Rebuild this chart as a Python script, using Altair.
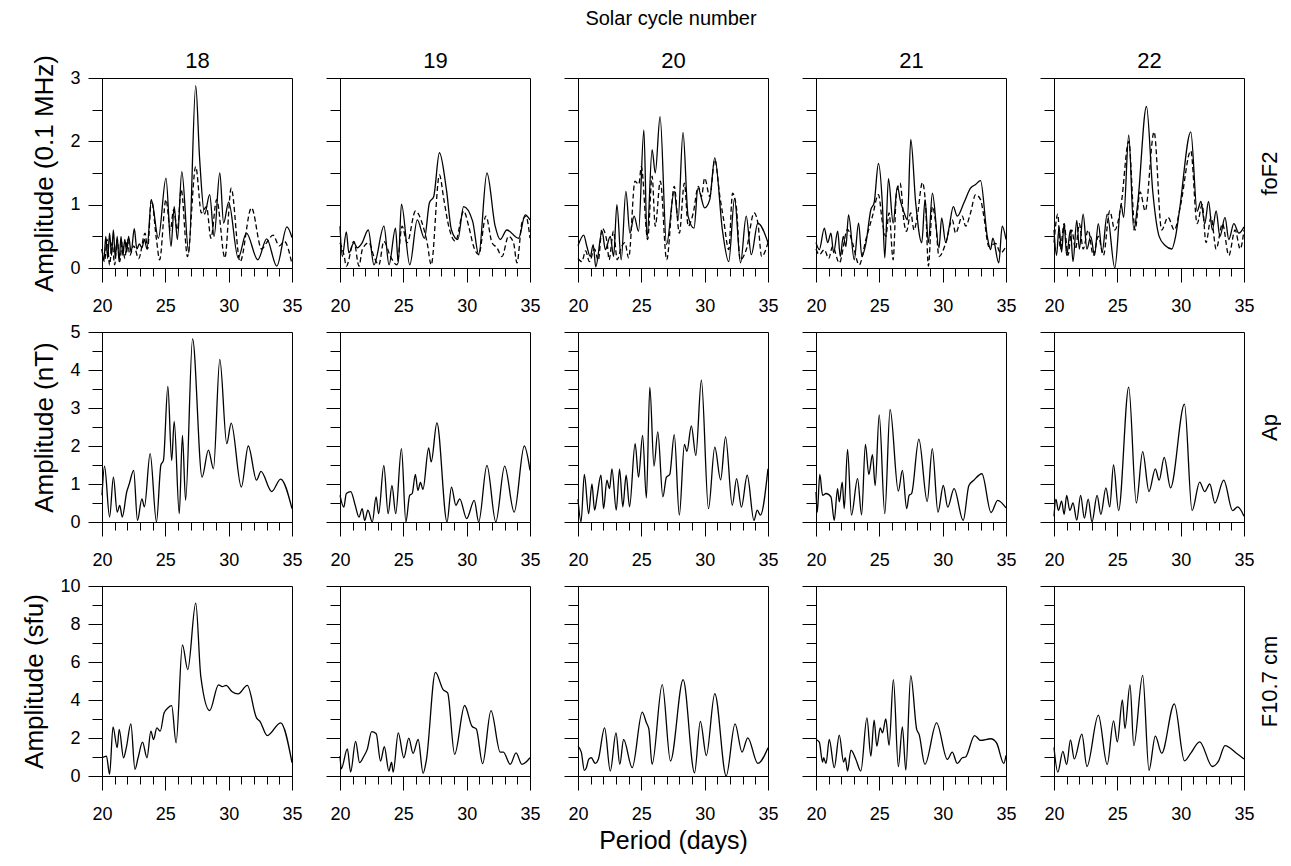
import altair as alt
import pandas as pd

CYCLES = ["18", "19", "20", "21", "22"]
ROW_NAMES = ["foF2", "Ap", "F10.7 cm"]
Y_TITLES = ["Amplitude (0.1 MHz)", "Amplitude (nT)", "Amplitude (sfu)"]
Y_MAX = [3, 5, 10]
Y_MAJOR = [[0, 1, 2, 3], [0, 1, 2, 3, 4, 5], [0, 2, 4, 6, 8, 10]]
Y_MINOR = [[0.5, 1.5, 2.5], [0.5, 1.5, 2.5, 3.5, 4.5], [1, 3, 5, 7, 9]]
X_MAJOR = [20, 25, 30, 35]
X_MINOR = [21, 22, 23, 24, 26, 27, 28, 29, 31, 32, 33, 34]

# ---- foF2 (solid and dashed), period (days), amplitude (0.1 MHz) ----
fof2_18_solid = [(20.0,0.30),(20.15,0.12),(20.3,0.5),(20.45,0.15),(20.6,0.55),(20.75,0.2),(20.9,0.6),(21.05,0.15),(21.2,0.5),(21.35,0.1),(21.5,0.5),(21.65,0.2),(21.8,0.45),(21.95,0.25),(22.1,0.5),(22.3,0.25),(22.55,0.62),(22.75,0.3),(22.95,0.38),(23.15,0.32),(23.35,0.45),(23.55,0.3),(23.9,1.07),(24.45,0.47),(25.05,1.42),(25.45,0.34),(25.7,0.97),(25.95,0.45),(26.3,1.52),(26.85,0.24),(27.4,2.88),(27.7,1.75),(28.1,0.85),(28.5,1.16),(28.85,0.5),(29.3,1.5),(29.6,0.71),(30.0,1.04),(30.75,0.16),(31.4,0.55),(32.3,0.13),(33.0,0.46),(33.8,0.03),(34.6,0.65),(35.0,0.48)]
fof2_18_dashed = [(20.0,0.3),(20.2,0.1),(20.4,0.45),(20.6,0.05),(20.8,0.4),(21.0,0.05),(21.2,0.45),(21.4,0.1),(21.6,0.4),(21.8,0.15),(22.0,0.45),(22.2,0.2),(22.5,0.35),(22.9,0.15),(23.4,0.55),(23.6,0.3),(23.9,1.08),(24.3,0.45),(24.55,0.13),(25.05,1.08),(25.4,0.6),(25.65,0.92),(25.95,0.6),(26.25,1.24),(26.75,0.18),(27.4,1.6),(27.85,0.87),(28.25,0.97),(28.6,0.47),(29.05,1.08),(29.7,0.16),(30.2,1.26),(30.9,0.1),(31.8,0.95),(32.6,0.3),(33.0,0.4),(33.5,0.52),(34.0,0.35),(34.4,0.42),(35.0,0.06)]
fof2_19_solid = [(20.0,0.66),(20.18,0.18),(20.5,0.57),(20.7,0.24),(21.1,0.4),(21.36,0.32),(21.75,0.4),(22.23,0.6),(22.68,0.05),(23.47,0.66),(23.87,0.05),(24.38,0.63),(24.6,0.08),(24.85,1.01),(25.51,0.05),(26.1,0.76),(26.67,0.47),(27.06,1.03),(27.4,1.13),(27.85,1.82),(28.4,1.24),(28.8,0.6),(29.3,0.45),(29.76,0.97),(30.47,0.74),(30.95,0.21),(31.6,1.5),(32.25,0.66),(32.65,0.45),(33.17,0.6),(34.1,0.47),(34.62,0.84),(35.0,0.76)]
fof2_19_dashed = [(20.0,0.4),(20.31,0.21),(20.5,0.03),(21.1,0.42),(21.5,0.03),(21.76,0.29),(22.28,0.4),(22.68,0.18),(23.07,0.05),(23.46,0.42),(23.99,0.18),(24.5,0.05),(24.9,0.66),(25.3,0.4),(25.96,0.9),(26.48,0.71),(26.88,0.4),(27.2,0.05),(27.85,1.47),(28.2,1.08),(28.58,0.66),(29.11,0.42),(29.76,0.9),(30.16,0.66),(30.55,0.34),(30.95,0.21),(31.52,0.82),(32.0,0.4),(32.39,0.32),(32.79,0.18),(33.3,0.5),(33.7,0.4),(33.97,0.08),(34.36,0.71),(34.67,0.82),(35.0,0.47)]
fof2_20_solid = [(20.0,0.35),(20.45,0.52),(20.7,0.34),(20.97,0.18),(21.2,0.37),(21.4,0.02),(21.9,0.58),(22.16,0.29),(22.55,0.5),(22.81,0.18),(23.07,1.0),(23.41,0.13),(23.78,1.21),(24.1,0.55),(24.43,0.82),(24.78,0.58),(25.2,2.18),(25.45,0.47),(25.85,1.87),(26.1,1.5),(26.48,2.39),(26.99,0.37),(27.6,1.21),(27.9,0.76),(28.29,2.14),(28.69,0.82),(29.16,0.63),(29.47,1.26),(30.0,0.95),(30.4,1.08),(30.8,1.74),(31.4,0.6),(31.9,0.1),(32.36,1.1),(32.83,0.08),(33.28,0.82),(33.68,0.21),(34.2,0.71),(35.0,0.4)]
fof2_20_dashed = [(20.0,0.15),(20.3,0.1),(20.6,0.27),(20.9,0.1),(21.3,0.3),(21.6,0.12),(21.9,0.63),(22.3,0.4),(22.45,0.13),(22.8,0.58),(23.1,0.13),(23.4,0.32),(23.7,0.4),(24.0,0.16),(24.5,1.37),(24.8,1.32),(25.0,1.6),(25.5,0.45),(25.85,1.45),(26.1,0.66),(26.5,1.37),(27.0,0.13),(27.6,1.29),(28.0,0.55),(28.4,1.34),(28.7,0.66),(29.1,0.87),(29.5,1.29),(29.75,1.13),(30.0,1.42),(30.4,1.13),(30.8,1.71),(31.2,1.13),(31.5,0.76),(31.9,0.29),(32.2,1.18),(32.5,0.97),(32.8,0.13),(33.3,0.3),(33.9,0.87),(34.2,0.71),(34.5,0.18),(35.0,0.4)]
fof2_21_solid = [(20.0,0.4),(20.26,0.29),(20.66,0.63),(20.92,0.4),(21.18,0.55),(21.39,0.24),(21.71,0.58),(21.92,0.18),(22.15,0.5),(22.36,0.34),(22.57,0.84),(23.02,0.13),(23.36,0.71),(23.62,0.18),(23.94,0.39),(24.33,0.92),(24.59,1.03),(24.93,1.65),(25.25,0.97),(25.43,0.16),(25.72,1.41),(26.09,0.71),(26.43,1.29),(26.64,1.08),(26.96,0.87),(27.22,0.76),(27.48,2.03),(27.87,1.03),(28.35,0.4),(28.61,1.08),(28.87,0.4),(29.19,1.18),(29.71,0.32),(29.92,0.79),(30.24,0.4),(30.5,0.63),(30.84,0.97),(31.15,0.82),(31.68,1.03),(32.2,1.26),(32.6,1.32),(32.99,1.38),(33.52,0.5),(33.78,0.29),(33.96,0.47),(34.43,0.08),(34.7,0.66),(35.0,0.45)]
fof2_21_dashed = [(20.0,0.3),(20.26,0.21),(20.66,0.29),(21.0,0.15),(21.31,0.34),(21.84,0.08),(22.49,0.61),(22.89,0.39),(23.41,0.05),(23.94,0.45),(24.46,0.82),(24.93,1.16),(25.25,0.71),(25.51,0.5),(25.77,0.87),(26.09,0.13),(26.35,1.18),(26.64,1.34),(26.96,0.71),(27.14,0.58),(27.48,0.87),(27.74,0.6),(28.0,0.82),(28.4,1.35),(28.66,0.97),(28.87,0.03),(29.19,0.97),(29.45,0.71),(29.71,0.18),(30.24,0.39),(30.76,0.76),(31.02,0.55),(31.55,0.82),(31.81,0.66),(32.2,0.87),(32.6,1.16),(32.99,1.08),(33.25,0.82),(33.65,0.34),(34.17,0.39),(34.57,0.24),(35.0,0.34)]
fof2_22_solid = [(20.0,0.6),(20.2,0.2),(20.4,0.65),(20.6,0.25),(20.8,0.7),(21.0,0.2),(21.3,0.6),(21.5,0.1),(21.8,0.75),(22.0,0.3),(22.3,0.85),(22.6,0.3),(22.9,0.5),(23.2,0.2),(23.5,0.7),(23.8,0.25),(24.2,0.85),(24.8,0.0),(25.3,1.0),(25.5,0.8),(25.9,2.1),(26.3,0.6),(26.6,1.0),(27.3,2.55),(27.8,1.2),(28.3,0.5),(28.8,0.35),(29.3,0.3),(29.6,0.5),(29.9,0.9),(30.8,2.15),(31.3,0.9),(31.6,1.05),(31.9,0.7),(32.2,1.05),(32.5,0.6),(32.8,0.9),(33.1,0.5),(33.5,0.8),(33.8,0.45),(34.2,0.7),(34.6,0.55),(35.0,0.65)]
fof2_22_dashed = [(20.0,0.4),(20.3,0.85),(20.5,0.3),(20.8,0.7),(21.1,0.2),(21.4,0.6),(21.7,0.3),(22.0,0.7),(22.3,0.3),(22.7,0.6),(23.1,0.2),(23.5,0.5),(23.9,0.2),(24.4,0.9),(24.8,0.6),(25.3,1.0),(25.9,2.0),(26.4,0.6),(26.8,1.2),(27.2,0.9),(27.9,2.15),(28.5,0.6),(29.0,0.8),(29.5,0.6),(30.0,1.0),(30.8,1.85),(31.3,0.7),(31.7,1.0),(32.0,0.4),(32.4,0.8),(32.8,0.3),(33.3,0.7),(33.8,0.2),(34.3,0.6),(34.7,0.3),(35.0,0.6)]

# ---- Ap, amplitude (nT) ----
ap_18 = [(20.0,0.7),(20.2,1.47),(20.6,0.13),(20.9,1.18),(21.2,0.26),(21.4,0.44),(21.6,0.13),(21.95,0.79),(22.15,1.0),(22.5,1.36),(22.8,0.04),(23.15,0.61),(23.35,0.4),(23.8,1.8),(24.3,0.0),(24.65,1.5),(24.85,1.62),(25.2,3.57),(25.5,1.62),(25.7,2.65),(26.1,0.22),(26.35,2.28),(26.6,0.57),(27.15,4.82),(27.9,1.18),(28.4,1.89),(28.8,1.4),(29.3,4.28),(29.85,2.06),(30.2,2.6),(31.0,0.92),(31.55,2.0),(32.2,1.1),(32.55,1.33),(33.4,0.8),(34.1,1.13),(35.0,0.35)]
ap_19 = [(20.0,0.7),(20.3,0.39),(20.5,0.75),(20.85,0.8),(21.2,0.44),(21.5,0.13),(21.75,0.35),(21.95,0.04),(22.2,0.31),(22.55,0.0),(22.85,0.66),(23.05,0.22),(23.46,1.49),(23.8,0.22),(24.1,0.96),(24.4,0.22),(24.85,1.93),(25.2,0.0),(25.5,0.7),(25.7,0.75),(25.95,1.25),(26.15,0.83),(26.35,1.04),(26.55,0.86),(27.0,1.95),(27.2,1.58),(27.65,2.61),(28.45,0.0),(28.8,0.92),(29.15,0.44),(29.45,0.61),(30.0,0.09),(30.6,0.57),(30.95,0.0),(31.6,1.49),(32.3,0.0),(33.0,1.47),(33.75,0.26),(34.55,2.0),(35.0,1.36)]
ap_20 = [(20.0,0.6),(20.24,0.0),(20.5,1.25),(20.84,0.22),(21.1,1.0),(21.31,0.31),(21.5,0.66),(21.81,1.23),(22.02,0.35),(22.28,1.1),(22.49,0.88),(22.68,1.4),(23.02,0.31),(23.28,1.39),(23.54,0.4),(23.8,1.23),(24.07,0.4),(24.51,2.06),(24.78,1.18),(25.1,2.28),(25.4,0.63),(25.67,3.55),(26.0,1.47),(26.3,2.37),(26.7,0.66),(26.98,1.18),(27.24,1.25),(27.6,2.3),(28.0,0.18),(28.4,2.04),(28.6,1.86),(28.95,2.53),(29.3,1.75),(29.74,3.73),(30.3,0.35),(30.8,1.97),(31.26,1.11),(31.65,2.24),(32.18,0.44),(32.52,1.14),(32.9,0.39),(33.36,1.23),(33.89,0.04),(34.15,0.31),(34.4,0.18),(35.0,1.4)]
ap_21 = [(20.0,0.79),(20.1,0.26),(20.3,1.25),(20.52,0.7),(20.79,0.75),(21.18,0.66),(21.44,0.04),(21.7,0.88),(21.84,0.53),(22.07,1.05),(22.23,0.35),(22.49,1.91),(22.8,0.18),(23.28,1.14),(23.6,0.19),(23.9,2.04),(24.17,1.25),(24.46,1.77),(24.67,0.96),(24.99,2.82),(25.43,0.22),(25.85,2.96),(26.5,0.81),(26.82,1.36),(27.16,0.35),(27.35,0.7),(27.55,0.75),(28.12,2.18),(28.78,0.54),(29.18,1.93),(29.63,0.26),(30.05,0.96),(30.4,0.39),(30.9,0.88),(31.62,0.04),(32.07,0.96),(32.46,1.1),(33.1,1.27),(33.82,0.25),(34.34,0.57),(35.0,0.37)]
ap_22 = [(20.0,0.15),(20.15,0.6),(20.35,0.3),(20.6,0.55),(20.8,0.2),(21.0,0.7),(21.25,0.3),(21.5,0.5),(21.8,0.05),(22.1,0.7),(22.4,0.1),(22.7,0.6),(23.0,0.0),(23.4,0.7),(23.7,0.2),(24.1,0.9),(24.4,0.4),(24.7,1.5),(25.1,0.3),(25.9,3.55),(26.5,0.5),(27.0,1.85),(27.5,0.8),(28.0,1.4),(28.3,1.1),(28.7,1.7),(29.2,0.9),(30.3,3.1),(30.9,0.3),(31.5,1.05),(31.9,0.8),(32.3,1.0),(32.7,0.5),(33.4,1.1),(34.1,0.3),(34.5,0.4),(35.0,0.15)]

# ---- F10.7 cm, amplitude (sfu) ----
f107_18 = [(20.0,0.96),(20.35,1.05),(20.6,0.09),(20.87,2.59),(21.2,1.49),(21.36,2.45),(21.7,0.96),(21.92,1.49),(22.28,2.74),(22.6,0.35),(22.85,0.96),(23.2,1.78),(23.55,0.96),(23.86,2.36),(24.07,1.92),(24.33,2.53),(24.6,2.36),(24.9,3.32),(25.2,3.58),(25.5,3.7),(25.85,1.75),(26.35,6.9),(26.77,5.6),(27.4,9.1),(27.8,5.24),(28.5,3.44),(29.2,4.8),(29.5,4.7),(29.8,4.77),(30.25,4.45),(30.75,4.32),(31.47,4.77),(32.2,3.06),(32.47,2.88),(33.05,2.13),(34.1,2.8),(35.0,0.7)]
f107_19 = [(20.0,1.05),(20.1,0.38),(20.58,1.43),(20.84,0.21),(21.23,1.82),(21.55,0.7),(21.89,1.05),(22.15,1.4),(22.5,2.34),(22.86,2.22),(23.2,0.79),(23.5,1.54),(23.86,0.26),(24.07,0.73),(24.2,0.21),(24.6,2.27),(25.04,0.96),(25.43,1.99),(25.77,1.19),(26.17,1.92),(26.56,0.14),(26.82,0.84),(27.53,5.45),(28.14,4.55),(28.5,4.37),(29.05,1.14),(29.84,3.71),(30.42,2.62),(30.76,2.48),(31.26,0.65),(31.92,3.44),(32.65,1.26),(32.9,1.26),(33.44,0.61),(33.9,1.22),(34.36,0.61),(35.0,0.96)]
f107_20 = [(20.0,1.57),(20.26,1.26),(20.5,0.3),(20.66,0.44),(20.84,0.87),(21.05,0.96),(21.36,0.66),(21.6,0.87),(22.1,2.53),(22.55,0.26),(23.0,2.27),(23.3,0.61),(23.6,1.92),(24.28,0.44),(25.07,3.36),(25.4,2.8),(25.6,2.45),(25.85,0.61),(26.65,4.81),(27.3,0.79),(28.3,5.07),(29.2,0.17),(29.66,2.88),(30.13,1.08),(30.8,4.34),(31.7,0.0),(32.4,2.74),(32.95,1.26),(33.4,2.01),(34.2,0.66),(35.0,1.49)]
f107_21 = [(20.0,1.92),(20.26,1.78),(20.52,0.73),(20.6,0.96),(20.79,0.66),(21.05,1.92),(21.44,0.44),(21.84,2.15),(22.18,0.73),(22.31,0.96),(22.49,0.26),(22.76,1.36),(23.15,0.87),(23.54,0.26),(24.02,3.06),(24.33,1.05),(24.59,2.94),(24.8,1.57),(25.07,2.53),(25.25,2.27),(25.51,3.0),(25.77,1.61),(26.11,5.07),(26.5,0.49),(26.82,2.59),(27.09,0.31),(27.48,5.28),(27.95,2.45),(28.14,2.19),(28.6,0.61),(29.52,2.8),(30.37,0.87),(30.76,1.26),(31.15,0.66),(31.55,0.96),(31.81,1.0),(32.52,2.13),(33.0,1.87),(33.8,1.96),(34.25,1.75),(34.83,0.66),(35.0,1.08)]
f107_22 = [(20.0,1.5),(20.3,0.2),(20.7,1.3),(21.0,0.6),(21.3,1.9),(21.6,0.9),(22.2,2.2),(22.6,0.5),(23.5,3.2),(24.2,0.6),(24.7,2.9),(25.0,1.8),(25.4,4.0),(25.6,2.5),(26.0,4.8),(26.3,1.6),(27.0,5.3),(27.5,0.3),(28.0,2.1),(28.5,1.2),(29.5,3.8),(30.3,0.8),(30.8,1.2),(31.5,1.8),(32.5,0.5),(33.0,0.8),(33.5,1.6),(34.4,1.2),(35.0,0.9)]

SOLID = [
    [fof2_18_solid, fof2_19_solid, fof2_20_solid, fof2_21_solid, fof2_22_solid],
    [ap_18, ap_19, ap_20, ap_21, ap_22],
    [f107_18, f107_19, f107_20, f107_21, f107_22],
]
DASHED = [
    [fof2_18_dashed, fof2_19_dashed, fof2_20_dashed, fof2_21_dashed, fof2_22_dashed],
    [None] * 5,
    [None] * 5,
]

FONT = "Liberation Sans"
W = 190
H = 190
INK = "#000000"


def frame(rows):
    return pd.DataFrame(rows, columns=["period", "amp"])


def panel(r, c):
    xs = alt.Scale(domain=[20, 35], nice=False, zero=False)
    ys = alt.Scale(domain=[0, Y_MAX[r]], nice=False, zero=False)
    sdf = frame(SOLID[r][c])

    x_minor = alt.Axis(values=X_MINOR, labels=False, tickSize=8, orient="bottom",
                       title=None, grid=False, domain=True)
    y_minor = alt.Axis(values=Y_MINOR[r], labels=False, tickSize=10, orient="left",
                       title=None, grid=False, domain=True)
    layers = [
        alt.Chart(sdf).mark_line(color=INK, strokeWidth=1.3, interpolate="monotone").encode(
            x=alt.X("period:Q", scale=xs, axis=x_minor),
            y=alt.Y("amp:Q", scale=ys, axis=y_minor),
        )
    ]
    if DASHED[r][c] is not None:
        layers.append(
            alt.Chart(frame(DASHED[r][c])).mark_line(
                color=INK, strokeWidth=1.3, strokeDash=[5, 3], interpolate="monotone"
            ).encode(
                x=alt.X("period:Q", scale=xs, axis=None),
                y=alt.Y("amp:Q", scale=ys, axis=None),
            )
        )

    x_major = alt.Axis(values=X_MAJOR, tickSize=14, orient="bottom", grid=False,
                       labelFlush=False, labelOverlap=False, labelPadding=15,
                       title=("Period (days)" if (r == 2 and c == 2) else None),
                       titlePadding=5, titleFontSize=25, format="d")
    y_major = alt.Axis(values=Y_MAJOR[r], tickSize=14, orient="left", grid=False,
                       labels=(c == 0), labelPadding=8, format="d",
                       title=(Y_TITLES[r] if c == 0 else None), titlePadding=12)
    layers.append(
        alt.Chart(sdf).mark_point(opacity=0).encode(
            x=alt.X("period:Q", scale=xs, axis=x_major),
            y=alt.Y("amp:Q", scale=ys, axis=y_major),
        )
    )
    if r == 0:
        # column header (solar cycle number) as a top axis title
        layers.append(
            alt.Chart(sdf).mark_point(opacity=0).encode(
                x=alt.X("period:Q", scale=xs, axis=alt.Axis(
                    orient="top", labels=False, ticks=False, domain=False, grid=False,
                    title=CYCLES[c], titleFontSize=22, titlePadding=6)),
                y=alt.Y("amp:Q", scale=ys, axis=None),
            )
        )
    if c == 4:
        layers.append(
            alt.Chart(sdf).mark_point(opacity=0).encode(
                x=alt.X("period:Q", scale=xs, axis=None),
                y=alt.Y("amp:Q", scale=ys, axis=alt.Axis(
                    orient="right", labels=False, ticks=False, domain=False, grid=False,
                    title=ROW_NAMES[r], titleAngle=270, titleBaseline="top",
                    titleFontSize=22, titlePadding=15)),
            )
        )

    ch = alt.layer(*layers).resolve_scale(x="shared", y="shared").resolve_axis(
        x="independent", y="independent"
    )
    return ch.properties(width=W, height=H)


panels = [panel(r, c) for r in range(3) for c in range(5)]

chart = alt.concat(
    *panels, columns=5, spacing={"row": 64, "column": 48}, bounds="flush"
).properties(
    title=alt.TitleParams("Solar cycle number", fontSize=20, font=FONT,
                          fontWeight="normal", color=INK, anchor="middle",
                          offset=20, dx=20),
    padding={"left": 13, "top": 0, "right": 0, "bottom": 0},
).configure_view(
    stroke=INK, strokeWidth=1
).configure_axis(
    domainColor=INK, tickColor=INK, labelColor=INK, titleColor=INK,
    labelFont=FONT, titleFont=FONT, labelFontSize=18, titleFontSize=26,
    titleFontWeight="normal", domainWidth=1, tickWidth=1,
).configure_title(
    font=FONT
)

chart.save("out.html", embed_options={"renderer": "svg", "actions": False})
